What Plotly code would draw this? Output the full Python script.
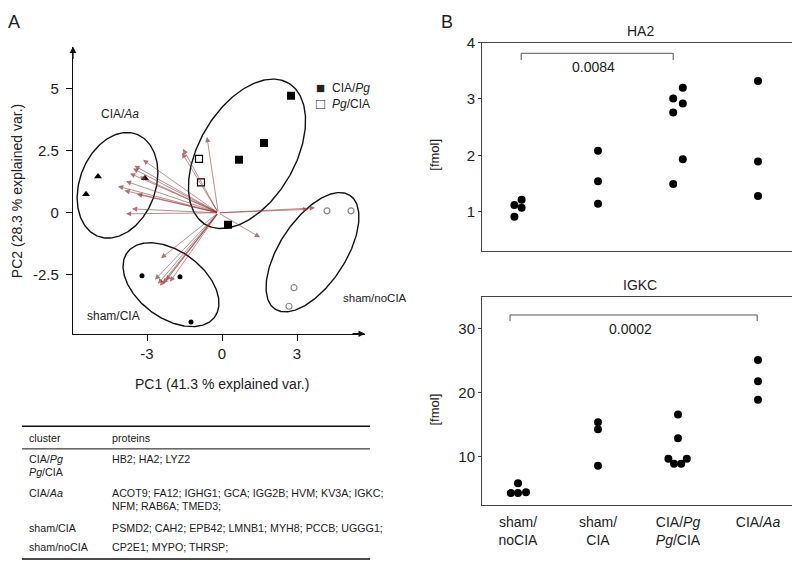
import numpy as np
import plotly.graph_objects as go

# The page body has an 8px margin, so the figure is drawn 8px smaller and
# positions below are given in window pixels, shifted by OFF.
OFF = 8
W, H = 800 - OFF, 563 - OFF
def PX(x): return (x - OFF) / W
def PY(y): return 1 - (y - OFF) / H

FONT = "Arial, Liberation Sans, sans-serif"
TXT = "#222222"

# ---------------- Panel A data: PCA scores ----------------
aa_pc1 = [-4.96, -5.44, -3.08]
aa_pc2 = [1.47, 0.75, 1.39]
pg_pc1 = [2.76, 1.68, 0.68, 0.24]
pg_pc2 = [4.72, 2.82, 2.14, -0.48]
pgcia_pc1 = [-0.92, -0.84]
pgcia_pc2 = [2.18, 1.23]
shamcia_pc1 = [-3.20, -1.68, -1.24]
shamcia_pc2 = [-2.54, -2.58, -4.40]
nocia_pc1 = [4.20, 5.16, 2.88, 2.68]
nocia_pc2 = [0.08, 0.08, -3.02, -3.77]

# loadings (arrow tips), origin of arrows
load_origin = (-0.15, 0.0)
load_pc1 = [-3.16, -3.56, -3.68, -3.84, -4.16, -3.40, -3.60, -3.84, -3.28, -3.50, -3.90,
            -1.56, -1.60, -0.60,
            3.72, 3.45, 1.52,
            -2.44, -2.68, -2.56, -2.48, -2.36, -2.08, -2.24]
load_pc2 = [2.14, 1.79, 1.59, 1.27, 1.07, 0.75, 0.16, -0.04, 1.47, 1.90, 0.90,
            2.58, 2.42, 3.06,
            0.20, 0.14, -0.99,
            -1.83, -2.70, -2.86, -2.94, -2.86, -2.78, -2.74]

# confidence ellipses: (cx, cy, semi-major, semi-minor, angle deg)
ellipses = [(-4.18, 1.11, 2.20, 1.52, 70),
            (1.00, 2.38, 3.30, 1.92, 60),
            (-2.04, -2.90, 2.18, 1.34, -37),
            (3.62, -1.59, 2.74, 1.32, 57)]

# ---------------- Panel B data ----------------
groups = ["sham/<br>noCIA", "sham/<br>CIA", "CIA/<i>Pg</i><br><i>Pg</i>/CIA", "CIA/<i>Aa</i>"]
ha2 = [[1.12, 1.21, 1.07, 0.91],
       [2.08, 1.54, 1.14],
       [3.20, 3.01, 2.92, 2.76, 1.93, 1.49],
       [3.32, 1.89, 1.28]]
ha2_off = [[-0.045, 0.045, 0.045, -0.045],
           [0, 0, 0],
           [0.06, -0.06, 0.06, -0.06, 0.06, -0.06],
           [0, 0, 0]]
igkc = [[4.31, 5.85, 4.31, 4.46],
        [15.4, 14.3, 8.6],
        [16.6, 12.9, 9.7, 8.9, 8.9, 9.7],
        [25.1, 21.8, 18.9]]
igkc_off = [[-0.09, 0, 0, 0.10],
            [0, 0, 0],
            [0, 0, -0.12, -0.05, 0.04, 0.11],
            [0, 0, 0]]
ha2_p = ("0.0084", 1.04, 2.94, 3.81, 3.69)
igkc_p = ("0.0002", 0.90, 3.99, 32.15, 31.2)

# table
table_rows = [
    (["CIA/<i>Pg</i>", "<i>Pg</i>/CIA"], ["HB2; HA2; LYZ2"]),
    (["CIA/<i>Aa</i>"], ["ACOT9; FA12; IGHG1; GCA; IGG2B; HVM; KV3A; IGKC;", "NFM; RAB6A; TMED3;"]),
    (["sham/CIA"], ["PSMD2; CAH2; EPB42; LMNB1; MYH8; PCCB; UGGG1;"]),
    (["sham/noCIA"], ["CP2E1; MYPO; THRSP;"]),
]
table_row_y = [[457, 470], [492, 505], [527], [547]]

fig = go.Figure()

# ellipses
for (cx, cy, a, b, ang) in ellipses:
    t = np.linspace(0, 2 * np.pi, 241)
    th = np.deg2rad(ang)
    ex = cx + a * np.cos(t) * np.cos(th) - b * np.sin(t) * np.sin(th)
    ey = cy + a * np.cos(t) * np.sin(th) + b * np.sin(t) * np.cos(th)
    fig.add_trace(go.Scatter(x=ex, y=ey, mode="lines", line=dict(color="#111", width=1.4),
                             xaxis="x", yaxis="y", showlegend=False, hoverinfo="skip"))

# arrows
for tx, ty in zip(load_pc1, load_pc2):
    fig.add_annotation(x=tx, y=ty, ax=load_origin[0], ay=load_origin[1],
                       xref="x", yref="y", axref="x", ayref="y", text="",
                       showarrow=True, arrowhead=2, arrowsize=1.3, arrowwidth=0.8,
                       arrowcolor="rgba(140,55,55,0.7)", standoff=0, startstandoff=0)

# score points
fig.add_trace(go.Scatter(x=aa_pc1, y=aa_pc2, mode="markers", xaxis="x", yaxis="y",
                         marker=dict(symbol="triangle-up", size=7, color="black"), showlegend=False))
fig.add_trace(go.Scatter(x=pg_pc1, y=pg_pc2, mode="markers", xaxis="x", yaxis="y",
                         marker=dict(symbol="square", size=8, color="black"), showlegend=False))
fig.add_trace(go.Scatter(x=pgcia_pc1, y=pgcia_pc2, mode="markers", xaxis="x", yaxis="y",
                         marker=dict(symbol="square-open", size=7, color="black", line=dict(width=1.2)),
                         showlegend=False))
fig.add_trace(go.Scatter(x=shamcia_pc1, y=shamcia_pc2, mode="markers", xaxis="x", yaxis="y",
                         marker=dict(symbol="circle", size=5, color="black"), showlegend=False))
fig.add_trace(go.Scatter(x=nocia_pc1, y=nocia_pc2, mode="markers", xaxis="x", yaxis="y",
                         marker=dict(symbol="circle-open", size=6, color="#888", line=dict(width=1.2)),
                         showlegend=False))

# Panel B points
for i, (vals, offs) in enumerate(zip(ha2, ha2_off)):
    fig.add_trace(go.Scatter(x=[i + 1 + o for o in offs], y=vals, mode="markers",
                             xaxis="x2", yaxis="y2", marker=dict(size=8, color="black"),
                             showlegend=False))
for i, (vals, offs) in enumerate(zip(igkc, igkc_off)):
    fig.add_trace(go.Scatter(x=[i + 1 + o for o in offs], y=vals, mode="markers",
                             xaxis="x3", yaxis="y3", marker=dict(size=8, color="black"),
                             showlegend=False))

# brackets
for (lab, x1, x2, ytop, ybot), xa, ya in [(ha2_p, "x2", "y2"), (igkc_p, "x3", "y3")]:
    fig.add_trace(go.Scatter(x=[x1, x1, x2, x2], y=[ybot, ytop, ytop, ybot], mode="lines",
                             line=dict(color="#555", width=1), xaxis=xa, yaxis=ya,
                             showlegend=False, hoverinfo="skip"))

def note(x, y, text, size=12, xref="paper", yref="paper", xanchor="center", angle=0):
    fig.add_annotation(x=x, y=y, xref=xref, yref=yref, text=text, showarrow=False,
                       xanchor=xanchor, yanchor="middle", textangle=angle,
                       font=dict(family=FONT, size=size, color=TXT))

note(1.94, 3.57, ha2_p[0], 14, "x2", "y2")
note(2.40, 30.0, igkc_p[0], 14, "x3", "y3")

# Panel A labels
note(-4.08, 3.97, "CIA/<i>Aa</i>", 12, "x", "y")
note(-4.36, -4.17, "sham/CIA", 12, "x", "y")
note(4.76, -3.45, "sham/noCIA", 11.5, "x", "y", xanchor="left")
note(PX(314), PY(80), "■", 15, xanchor="left")
note(PX(314), PY(96), "□", 15, xanchor="left")
note(PX(330), PY(80), "CIA/<i>Pg</i>", 12, xanchor="left")
note(PX(330), PY(96), "<i>Pg</i>/CIA", 12, xanchor="left")

# axis arrows panel A
fig.add_annotation(x=5.72, y=-4.88, xref="x", yref="y", ax=-14, ay=0, text="", showarrow=True,
                   arrowhead=2, arrowsize=1, arrowwidth=1.3, arrowcolor="#111")
fig.add_annotation(x=-5.96, y=6.71, xref="x", yref="y", ax=0, ay=14, text="", showarrow=True,
                   arrowhead=2, arrowsize=1, arrowwidth=1.3, arrowcolor="#111")

# axis titles A
note(PX(222), PY(381), "PC1 (41.3 % explained var.)", 14)
note(PX(17), PY(185), "PC2 (28.3 % explained var.)", 14, angle=-90)

# panel letters
note(PX(14), PY(13), "A", 18)
note(PX(447), PY(13), "B", 18)

# panel B titles
note(PX(640), PY(22), "HA2", 14)
note(PX(640), PY(280), "IGKC", 14)
for yy in (148, 407):
    note(PX(435), PY(yy), "[fmol]", 13, angle=-90)

# table
TX0, TX1, TC0, TC1 = 22, 370, 27, 110
TS = 10.7
for yy, w in [(424, 1.6), (447, 1.0), (559, 1.6)]:
    fig.add_shape(type="line", xref="paper", yref="paper", x0=PX(TX0), x1=PX(TX1),
                  y0=PY(yy), y1=PY(yy), line=dict(color="#111", width=w))
note(PX(TC0), PY(436), "cluster", TS, xanchor="left")
note(PX(TC1), PY(436), "proteins", TS, xanchor="left")
for (clabs, plines), ys in zip(table_rows, table_row_y):
    for k, c in enumerate(clabs):
        note(PX(TC0), PY(ys[k]), c, TS, xanchor="left")
    for k, p in enumerate(plines):
        note(PX(TC1), PY(ys[k]), p, TS, xanchor="left")

tickfont = dict(family=FONT, size=15, color=TXT)
fig.update_layout(
    width=W, height=H, margin=dict(l=0, r=0, t=0, b=0),
    paper_bgcolor="white", plot_bgcolor="white",
    font=dict(family=FONT, color=TXT),
    xaxis=dict(domain=[PX(73), PX(365)], range=[-5.96, 5.72], showgrid=False, zeroline=False,
               showline=True, linecolor="#111", linewidth=1.3, ticks="outside", ticklen=6,
               tickcolor="#111", tickvals=[-3, 0, 3], ticktext=["-3", "0", "3"],
               tickfont=tickfont, anchor="y", ticklabelstandoff=0),
    yaxis=dict(domain=[PY(330), PY(38)], range=[-4.88, 6.71], showgrid=False, zeroline=False,
               showline=True, linecolor="#111", linewidth=1.3, ticks="outside", ticklen=6,
               tickcolor="#111", tickvals=[-2.5, 0, 2.5, 5], ticktext=["-2.5", "0", "2.5", "5"],
               tickfont=tickfont, anchor="x", ticklabelstandoff=4),
    xaxis2=dict(domain=[PX(482), PX(797)], range=[0.55, 4.4875], showgrid=False, zeroline=False,
                showline=True, mirror=True, linecolor="#444", linewidth=1, ticks="",
                showticklabels=False, anchor="y2"),
    yaxis2=dict(domain=[PY(246), PY(34)], range=[0.3, 4.0], showgrid=False, zeroline=False,
                showline=True, mirror=True, linecolor="#444", linewidth=1, ticks="outside",
                ticklen=3, tickcolor="#444", tickvals=[1, 2, 3, 4], tickfont=tickfont, anchor="x2"),
    xaxis3=dict(domain=[PX(482), PX(797)], range=[0.55, 4.4875], showgrid=False, zeroline=False,
                showline=True, mirror=True, linecolor="#444", linewidth=1, ticks="",
                tickvals=[1, 2, 3, 4], ticktext=groups, tickfont=dict(family=FONT, size=14, color=TXT),
                anchor="y3", ticklabelstandoff=4),
    yaxis3=dict(domain=[PY(504), PY(293)], range=[2.46, 34.9], showgrid=False, zeroline=False,
                showline=True, mirror=True, linecolor="#444", linewidth=1, ticks="outside",
                ticklen=3, tickcolor="#444", tickvals=[10, 20, 30], tickfont=tickfont, anchor="x3"),
)

fig.write_html("out.html")
